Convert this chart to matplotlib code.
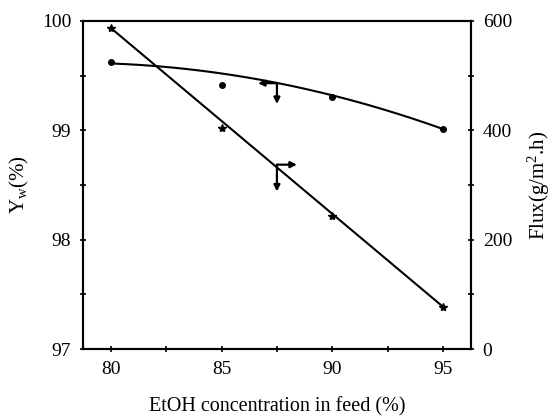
import numpy as np
import matplotlib
matplotlib.use("Agg")
import matplotlib.pyplot as plt
from matplotlib.ticker import MultipleLocator

plt.rcParams['font.family'] = ['Liberation Serif', 'DejaVu Serif']
plt.rcParams['mathtext.fontset'] = 'custom'
plt.rcParams['mathtext.rm'] = 'Liberation Serif'
plt.rcParams['mathtext.it'] = 'Liberation Serif:italic'

# Data
etoh = [80, 85, 90, 95]
yw = [99.62, 99.41, 99.30, 99.01]
flux = [587, 404, 243, 77]

# Curve read-off points (fitted trend lines)
yw_curve_x = [80, 85, 87.5, 90, 95]
yw_curve_y = [99.61, 99.52, 99.43, 99.32, 99.01]
flux_line_x = [80, 95]
flux_line_y = [587, 77]

# Axis-indicator points
yw_arrow = (87.5, 99.43)
flux_arrow = (87.5, 332)

fig = plt.figure(figsize=(5.51, 4.16), dpi=100)
ax = fig.add_axes([0.1506, 0.161, 0.704, 0.789])
ax2 = ax.twinx()

# Yw curve (quadratic smoothing of read-off points)
c = np.polyfit(yw_curve_x, yw_curve_y, 2)
xs = np.linspace(80, 95, 200)
ax.plot(xs, np.polyval(c, xs), color='black', lw=1.5)
ax.plot(etoh, yw, 'o', color='black', ms=4)

# Flux line
ax2.plot(flux_line_x, flux_line_y, color='black', lw=1.5)
ax2.plot(etoh, flux, marker='*', ls='none', color='black', ms=6)

# Arrows indicating axes
ap = dict(arrowstyle='-|>', color='black', lw=1.6, mutation_scale=9, shrinkA=0, shrinkB=0)
ax.annotate('', xy=(86.65, yw_arrow[1]), xytext=yw_arrow, arrowprops=ap)
ax.annotate('', xy=(yw_arrow[0], 99.24), xytext=yw_arrow, arrowprops=ap)
ax2.annotate('', xy=(88.4, flux_arrow[1] + 5), xytext=(87.5, flux_arrow[1] + 5), arrowprops=ap)
ax2.annotate('', xy=(flux_arrow[0], 288), xytext=(87.5, flux_arrow[1] + 5), arrowprops=ap)

ax.set_xlim(78.75, 96.25)
ax.set_ylim(97, 100)
ax2.set_ylim(0, 600)

ax.xaxis.set_major_locator(MultipleLocator(5))
ax.xaxis.set_minor_locator(MultipleLocator(2.5))
ax.yaxis.set_major_locator(MultipleLocator(1))
ax.yaxis.set_minor_locator(MultipleLocator(0.5))
ax2.yaxis.set_major_locator(MultipleLocator(200))
ax2.yaxis.set_minor_locator(MultipleLocator(100))

for a in (ax, ax2):
    a.tick_params(which='both', direction='inout', length=5, width=1.2, labelsize=14, pad=6)
    for s in a.spines.values():
        s.set_linewidth(1.5)
ax.tick_params(axis='x', which='both', top=False)
ax2.tick_params(axis='y', which='minor', labelright=False)

ax.set_xlabel('EtOH concentration in feed (%)', fontsize=14.5, labelpad=14)
ax.set_ylabel(r'Y$_\mathrm{w}$(%)', fontsize=15, labelpad=8)
ax2.set_ylabel(r'Flux(g/m$^2$.h)', fontsize=15, labelpad=10)

fig.savefig('out.png', dpi=100)
